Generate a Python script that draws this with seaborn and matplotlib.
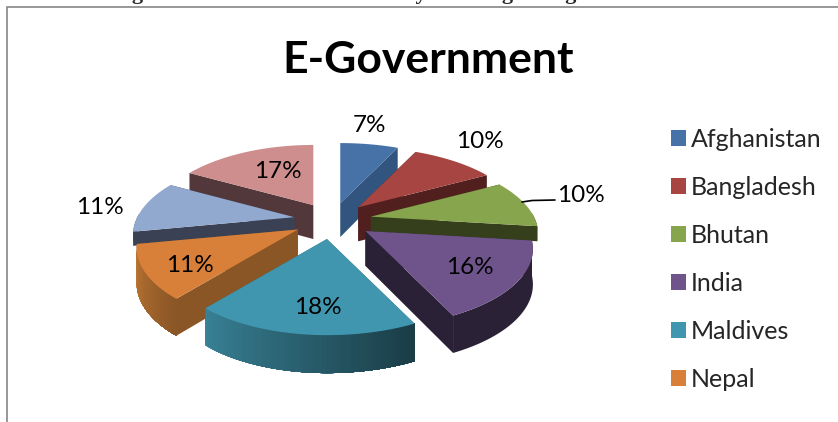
import numpy as np
import seaborn as sns
import matplotlib
matplotlib.use("Agg")
import matplotlib.pyplot as plt
from matplotlib.patches import Patch, Polygon

countries = ["Afghanistan", "Bangladesh", "Bhutan", "India", "Maldives", "Nepal", "Pakistan", "Sri Lanka"]
shares = [7, 10, 10, 16, 18, 11, 11, 17]
top_colors = ["#4672a8", "#a64542", "#87a54c", "#6f548c", "#4096ae", "#d8803a", "#92a9cf", "#cd8e8d"]
wall_colors = ["#31557f", "#521f1f", "#363f1c", "#2a2136", "#2b6373", "#8a5626", "#3a4154", "#52383a"]
legend_names = countries[:6]
label_xy = [(369, 126), (480, 142), (581, 196), (470, 268), (318, 307), (190, 266), (100, 208), (278, 172)]

# Projection of the tilted disc onto the canvas, in pixels
CX, CY = 332, 220
RX_RIGHT, RX_LEFT, RY = 163, 157, 74
PERSPECTIVE = 0.23
EXPLODE = 0.245
DEPTH = 34.5
# Slices partly tucked behind a neighbour show a shallower wall
SHALLOW_WALLS = {"Bhutan": 15, "Pakistan": 14}


def project(ox, oy, x, y, depth=0.0):
    """Canvas position of point (x, y) of a slice whose apex is pushed out to (ox, oy)."""
    w = 1 + PERSPECTIVE * y
    apex_w = 1 + PERSPECTIVE * oy
    sx = CX + (RX_RIGHT if ox > 0 else RX_LEFT) * ox / apex_w + (RX_RIGHT if x > 0 else RX_LEFT) * x / w
    sy = CY - RY * oy / apex_w - RY * y / w
    if depth:
        sy += depth * (1 - 0.08 * (y + oy))
    return sx, sy


def shade(hex_color, factor):
    rgb = np.array(matplotlib.colors.to_rgb(hex_color))
    return tuple(np.clip(rgb * factor, 0, 1))


sns.set_theme(style="white")
plt.rcParams["font.family"] = ["Lato", "DejaVu Sans"]

fig = plt.figure(figsize=(8.38, 4.22), dpi=100)
ax = fig.add_axes([0, 0, 1, 1])
ax.set_xlim(0, 838)
ax.set_ylim(422, 0)
ax.axis("off")

# Chart frame and the caption line running off the top edge
ax.plot([6.8, 6.8, 838], [422, 6.8, 6.8], color="#868686", lw=1.2, solid_joinstyle="miter", zorder=1)
ax.text(440, -1, "Figure 6: Share of Individuals by Rate regarding Share in E-Services",
        family="Liberation Serif", weight="bold", fontsize=16, ha="center", va="baseline", clip_on=False)

edges = np.radians(np.cumsum([0] + shares) * 3.6)
mids = (edges[:-1] + edges[1:]) / 2
# Paint from the back of the pie to the front
order = np.argsort(-np.cos(mids))
for rank, i in enumerate(order):
    z = 2 + rank
    ox, oy = EXPLODE * np.sin(mids[i]), EXPLODE * np.cos(mids[i])
    thetas = np.linspace(edges[i], edges[i + 1], 60)
    xs, ys = np.sin(thetas), np.cos(thetas)
    name = countries[i]
    depth = SHALLOW_WALLS.get(name, DEPTH)

    # Radial walls
    for ex, ey in ((xs[0], ys[0]), (xs[-1], ys[-1])):
        pts = [project(ox, oy, 0, 0), project(ox, oy, ex, ey),
               project(ox, oy, ex, ey, depth), project(ox, oy, 0, 0, depth)]
        ax.add_patch(Polygon(pts, closed=True, fc=wall_colors[i], ec="none", zorder=z))

    # Outer wall; the two front slices darken towards their right-hand end
    front = np.flatnonzero(ys < 0.05)
    if front.size > 1:
        if name in ("Maldives", "Nepal"):
            left_f, right_f = (1.3, 0.6) if name == "Maldives" else (1.4, 1.0)
            # Each strip runs back to the slice's start so no seams show between strips
            for k in front[:0:-1]:
                t = (k - front[0]) / (front[-1] - front[0])
                c = shade(wall_colors[i], right_f + (left_f - right_f) * t)
                upper = [project(ox, oy, xs[m], ys[m]) for m in range(front[0], k + 1)]
                lower = [project(ox, oy, xs[m], ys[m], depth) for m in range(k, front[0] - 1, -1)]
                ax.add_patch(Polygon(upper + lower, closed=True, fc=c, ec="none", zorder=z + 0.2))
        else:
            upper = [project(ox, oy, xs[m], ys[m]) for m in front]
            lower = [project(ox, oy, xs[m], ys[m], depth) for m in front[::-1]]
            ax.add_patch(Polygon(upper + lower, closed=True, fc=wall_colors[i], ec="none", zorder=z + 0.2))

    # Top face
    top = [project(ox, oy, 0, 0)] + [project(ox, oy, a, b) for a, b in zip(xs, ys)]
    ax.add_patch(Polygon(top, closed=True, fc=top_colors[i], ec="none", zorder=z + 0.4))

for share, (lx, ly) in zip(shares, label_xy):
    ax.text(lx, ly, f"{share}%", fontsize=17.5, color="black", ha="center", va="center", zorder=30)
ax.plot([522, 532, 555], [202, 200.5, 200], color="black", lw=1.2, zorder=29)

ax.text(428, 60, "E-Government", fontsize=32, weight="bold", color="black", ha="center", va="center")

handles = [Patch(fc=c, ec="none") for c in top_colors[:6]]
ax.legend(handles, legend_names, loc="upper left", bbox_to_anchor=(671 / 838, 1 - 128 / 422), frameon=False,
          fontsize=18, handlelength=0.6, handleheight=0.6, handletextpad=0.2,
          labelspacing=1.0, borderpad=0, borderaxespad=0)

fig.savefig("out.png", dpi=100)
